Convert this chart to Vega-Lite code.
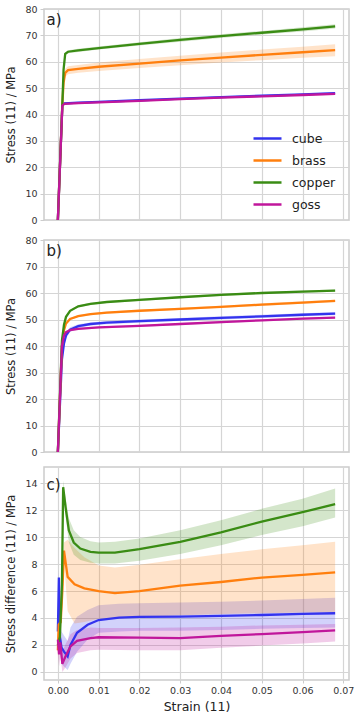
{
  "$schema": "https://vega.github.io/schema/vega-lite/v6.json",
  "background": "white",
  "padding": {"left": 5, "top": 3, "right": 5, "bottom": 1},
  "spacing": 8,
  "config": {
    "font": "DejaVu Sans",
    "view": {"stroke": "#cccccc", "strokeWidth": 1.5},
    "axis": {"gridColor": "#d5d5d5", "gridWidth": 1.2, "domain": false, "tickColor": "#cccccc", "tickSize": 4, "labelFontSize": 9.5, "labelColor": "#333333", "titleFontSize": 11.5, "titleFontWeight": "normal", "titleColor": "#222222", "labelPadding": 3, "titlePadding": 8, "labelOverlap": false},
    "axisX": {"minExtent": 0, "tickSize": 3, "labelPadding": 2, "titlePadding": 6, "titleFontSize": 12.5}
  },
  "resolve": {"scale": {"color": "independent"}},
  "datasets": {
    "A": [
      {"g": "cube", "x": 0, "y": 0, "lo": 0, "hi": 0},
      {"g": "cube", "x": 0.0011, "y": 43.5, "lo": 43.2, "hi": 43.8},
      {"g": "cube", "x": 0.0016, "y": 44.2, "lo": 43.9, "hi": 44.5},
      {"g": "cube", "x": 0.005, "y": 44.5, "lo": 44.2, "hi": 44.8},
      {"g": "cube", "x": 0.01, "y": 44.8, "lo": 44.5, "hi": 45.1},
      {"g": "cube", "x": 0.02, "y": 45.4, "lo": 45.1, "hi": 45.7},
      {"g": "cube", "x": 0.03, "y": 46.0, "lo": 45.7, "hi": 46.3},
      {"g": "cube", "x": 0.04, "y": 46.6, "lo": 46.3, "hi": 46.9},
      {"g": "cube", "x": 0.05, "y": 47.1, "lo": 46.8, "hi": 47.4},
      {"g": "cube", "x": 0.06, "y": 47.6, "lo": 47.3, "hi": 47.9},
      {"g": "cube", "x": 0.068, "y": 48.1, "lo": 47.8, "hi": 48.4},
      {"g": "brass", "x": 0, "y": 0, "lo": 0, "hi": 0},
      {"g": "brass", "x": 0.0011, "y": 44, "lo": 43.5, "hi": 44.5},
      {"g": "brass", "x": 0.0014, "y": 52, "lo": 50.5, "hi": 53.5},
      {"g": "brass", "x": 0.0018, "y": 55.8, "lo": 54.3, "hi": 57.3},
      {"g": "brass", "x": 0.0025, "y": 56.8, "lo": 55.3, "hi": 58.3},
      {"g": "brass", "x": 0.005, "y": 57.3, "lo": 55.8, "hi": 58.8},
      {"g": "brass", "x": 0.01, "y": 58.1, "lo": 56.5, "hi": 59.7},
      {"g": "brass", "x": 0.02, "y": 59.3, "lo": 57.6, "hi": 61.0},
      {"g": "brass", "x": 0.03, "y": 60.5, "lo": 58.7, "hi": 62.3},
      {"g": "brass", "x": 0.04, "y": 61.6, "lo": 59.7, "hi": 63.5},
      {"g": "brass", "x": 0.05, "y": 62.6, "lo": 60.6, "hi": 64.6},
      {"g": "brass", "x": 0.06, "y": 63.6, "lo": 61.5, "hi": 65.7},
      {"g": "brass", "x": 0.068, "y": 64.4, "lo": 62.1, "hi": 66.6},
      {"g": "copper", "x": 0, "y": 0, "lo": 0, "hi": 0},
      {"g": "copper", "x": 0.0011, "y": 44, "lo": 43.6, "hi": 44.4},
      {"g": "copper", "x": 0.0014, "y": 57, "lo": 56.4, "hi": 57.6},
      {"g": "copper", "x": 0.0018, "y": 63.0, "lo": 62.4, "hi": 63.6},
      {"g": "copper", "x": 0.0025, "y": 63.8, "lo": 63.2, "hi": 64.4},
      {"g": "copper", "x": 0.005, "y": 64.3, "lo": 63.7, "hi": 64.9},
      {"g": "copper", "x": 0.01, "y": 65.2, "lo": 64.6, "hi": 65.8},
      {"g": "copper", "x": 0.02, "y": 66.8, "lo": 66.2, "hi": 67.4},
      {"g": "copper", "x": 0.03, "y": 68.3, "lo": 67.6, "hi": 69.0},
      {"g": "copper", "x": 0.04, "y": 69.7, "lo": 69.0, "hi": 70.4},
      {"g": "copper", "x": 0.05, "y": 71.0, "lo": 70.3, "hi": 71.7},
      {"g": "copper", "x": 0.06, "y": 72.3, "lo": 71.5, "hi": 73.1},
      {"g": "copper", "x": 0.068, "y": 73.4, "lo": 72.6, "hi": 74.2},
      {"g": "goss", "x": 0, "y": 0, "lo": 0, "hi": 0},
      {"g": "goss", "x": 0.0011, "y": 43.4, "lo": 43.1, "hi": 43.7},
      {"g": "goss", "x": 0.0016, "y": 44.0, "lo": 43.7, "hi": 44.3},
      {"g": "goss", "x": 0.005, "y": 44.3, "lo": 44.0, "hi": 44.6},
      {"g": "goss", "x": 0.01, "y": 44.6, "lo": 44.3, "hi": 44.9},
      {"g": "goss", "x": 0.02, "y": 45.2, "lo": 44.9, "hi": 45.5},
      {"g": "goss", "x": 0.03, "y": 45.8, "lo": 45.5, "hi": 46.1},
      {"g": "goss", "x": 0.04, "y": 46.4, "lo": 46.1, "hi": 46.7},
      {"g": "goss", "x": 0.05, "y": 46.9, "lo": 46.6, "hi": 47.2},
      {"g": "goss", "x": 0.06, "y": 47.4, "lo": 47.1, "hi": 47.7},
      {"g": "goss", "x": 0.068, "y": 47.8, "lo": 47.5, "hi": 48.1}
    ],
    "B": [
      {"g": "cube", "x": 0, "y": 0, "lo": 0, "hi": 0},
      {"g": "cube", "x": 0.0008, "y": 28, "lo": 26, "hi": 30},
      {"g": "cube", "x": 0.001, "y": 35, "lo": 33, "hi": 37},
      {"g": "cube", "x": 0.0015, "y": 41, "lo": 39.5, "hi": 42.5},
      {"g": "cube", "x": 0.002, "y": 44, "lo": 42.8, "hi": 45.2},
      {"g": "cube", "x": 0.003, "y": 46.2, "lo": 45.3, "hi": 47.1},
      {"g": "cube", "x": 0.005, "y": 47.5, "lo": 46.8, "hi": 48.2},
      {"g": "cube", "x": 0.008, "y": 48.3, "lo": 47.7, "hi": 48.9},
      {"g": "cube", "x": 0.012, "y": 48.8, "lo": 48.2, "hi": 49.4},
      {"g": "cube", "x": 0.02, "y": 49.4, "lo": 48.8, "hi": 50.0},
      {"g": "cube", "x": 0.03, "y": 50.0, "lo": 49.4, "hi": 50.6},
      {"g": "cube", "x": 0.04, "y": 50.6, "lo": 50.0, "hi": 51.2},
      {"g": "cube", "x": 0.05, "y": 51.2, "lo": 50.6, "hi": 51.8},
      {"g": "cube", "x": 0.06, "y": 51.8, "lo": 51.2, "hi": 52.4},
      {"g": "cube", "x": 0.068, "y": 52.2, "lo": 51.6, "hi": 52.8},
      {"g": "brass", "x": 0, "y": 0, "lo": 0, "hi": 0},
      {"g": "brass", "x": 0.001, "y": 40, "lo": 39.4, "hi": 40.6},
      {"g": "brass", "x": 0.0015, "y": 46, "lo": 45.5, "hi": 46.5},
      {"g": "brass", "x": 0.002, "y": 48.5, "lo": 48.0, "hi": 49.0},
      {"g": "brass", "x": 0.003, "y": 50.2, "lo": 49.8, "hi": 50.6},
      {"g": "brass", "x": 0.005, "y": 51.3, "lo": 50.9, "hi": 51.7},
      {"g": "brass", "x": 0.008, "y": 52.0, "lo": 51.6, "hi": 52.4},
      {"g": "brass", "x": 0.012, "y": 52.6, "lo": 52.2, "hi": 53.0},
      {"g": "brass", "x": 0.02, "y": 53.3, "lo": 52.9, "hi": 53.7},
      {"g": "brass", "x": 0.03, "y": 54.0, "lo": 53.6, "hi": 54.4},
      {"g": "brass", "x": 0.04, "y": 54.8, "lo": 54.4, "hi": 55.2},
      {"g": "brass", "x": 0.05, "y": 55.6, "lo": 55.1, "hi": 56.1},
      {"g": "brass", "x": 0.06, "y": 56.4, "lo": 55.9, "hi": 56.9},
      {"g": "brass", "x": 0.068, "y": 57.0, "lo": 56.5, "hi": 57.5},
      {"g": "copper", "x": 0, "y": 0, "lo": 0, "hi": 0},
      {"g": "copper", "x": 0.001, "y": 42, "lo": 41.5, "hi": 42.5},
      {"g": "copper", "x": 0.0015, "y": 48, "lo": 47.6, "hi": 48.4},
      {"g": "copper", "x": 0.002, "y": 51, "lo": 50.6, "hi": 51.4},
      {"g": "copper", "x": 0.003, "y": 53.3, "lo": 52.9, "hi": 53.7},
      {"g": "copper", "x": 0.005, "y": 55.0, "lo": 54.6, "hi": 55.4},
      {"g": "copper", "x": 0.008, "y": 55.9, "lo": 55.5, "hi": 56.3},
      {"g": "copper", "x": 0.012, "y": 56.6, "lo": 56.2, "hi": 57.0},
      {"g": "copper", "x": 0.02, "y": 57.4, "lo": 57.0, "hi": 57.8},
      {"g": "copper", "x": 0.03, "y": 58.4, "lo": 58.0, "hi": 58.8},
      {"g": "copper", "x": 0.04, "y": 59.3, "lo": 58.9, "hi": 59.7},
      {"g": "copper", "x": 0.05, "y": 60.0, "lo": 59.6, "hi": 60.4},
      {"g": "copper", "x": 0.06, "y": 60.5, "lo": 60.1, "hi": 60.9},
      {"g": "copper", "x": 0.068, "y": 60.9, "lo": 60.5, "hi": 61.3},
      {"g": "goss", "x": 0, "y": 0, "lo": 0, "hi": 0},
      {"g": "goss", "x": 0.001, "y": 40, "lo": 39.5, "hi": 40.5},
      {"g": "goss", "x": 0.0015, "y": 44, "lo": 43.6, "hi": 44.4},
      {"g": "goss", "x": 0.002, "y": 45.2, "lo": 44.8, "hi": 45.6},
      {"g": "goss", "x": 0.003, "y": 46.0, "lo": 45.6, "hi": 46.4},
      {"g": "goss", "x": 0.005, "y": 46.5, "lo": 46.1, "hi": 46.9},
      {"g": "goss", "x": 0.01, "y": 47.0, "lo": 46.6, "hi": 47.4},
      {"g": "goss", "x": 0.02, "y": 47.6, "lo": 47.2, "hi": 48.0},
      {"g": "goss", "x": 0.03, "y": 48.3, "lo": 47.9, "hi": 48.7},
      {"g": "goss", "x": 0.04, "y": 49.0, "lo": 48.6, "hi": 49.4},
      {"g": "goss", "x": 0.05, "y": 49.7, "lo": 49.3, "hi": 50.1},
      {"g": "goss", "x": 0.06, "y": 50.3, "lo": 49.9, "hi": 50.7},
      {"g": "goss", "x": 0.068, "y": 50.7, "lo": 50.3, "hi": 51.1}
    ],
    "C": [
      {"g": "cube", "x": 0, "y": 3.0, "lo": 2.0, "hi": 4.0},
      {"g": "cube", "x": 0.00025, "y": 7.0, "lo": 6.0, "hi": 7.6},
      {"g": "cube", "x": 0.0005, "y": 2.6, "lo": 1.5, "hi": 3.6},
      {"g": "cube", "x": 0.0009, "y": 1.8, "lo": 0.6, "hi": 3.0},
      {"g": "cube", "x": 0.0015, "y": 1.5, "lo": 0.4, "hi": 2.7},
      {"g": "cube", "x": 0.0024, "y": 1.15, "lo": 0.15, "hi": 2.3},
      {"g": "cube", "x": 0.0031, "y": 2.0, "lo": 0.6, "hi": 3.3},
      {"g": "cube", "x": 0.0047, "y": 2.9, "lo": 1.5, "hi": 4.1},
      {"g": "cube", "x": 0.0073, "y": 3.5, "lo": 2.4, "hi": 4.6},
      {"g": "cube", "x": 0.01, "y": 3.85, "lo": 2.9, "hi": 4.95},
      {"g": "cube", "x": 0.015, "y": 4.02, "lo": 3.0, "hi": 5.05},
      {"g": "cube", "x": 0.02, "y": 4.08, "lo": 3.05, "hi": 5.1},
      {"g": "cube", "x": 0.03, "y": 4.1, "lo": 3.05, "hi": 5.15},
      {"g": "cube", "x": 0.04, "y": 4.15, "lo": 3.1, "hi": 5.2},
      {"g": "cube", "x": 0.05, "y": 4.22, "lo": 3.2, "hi": 5.3},
      {"g": "cube", "x": 0.06, "y": 4.3, "lo": 3.25, "hi": 5.4},
      {"g": "cube", "x": 0.068, "y": 4.35, "lo": 3.3, "hi": 5.5},
      {"g": "brass", "x": 0, "y": 1.6, "lo": 1.0, "hi": 2.2},
      {"g": "brass", "x": 0.0002, "y": 3.5, "lo": 2.8, "hi": 4.2},
      {"g": "brass", "x": 0.0007, "y": 3.7, "lo": 2.8, "hi": 4.6},
      {"g": "brass", "x": 0.0011, "y": 6.0, "lo": 5.0, "hi": 7.0},
      {"g": "brass", "x": 0.0015, "y": 9.0, "lo": 8.4, "hi": 9.6},
      {"g": "brass", "x": 0.0024, "y": 7.05, "lo": 4.5, "hi": 9.8},
      {"g": "brass", "x": 0.0041, "y": 6.5, "lo": 3.6, "hi": 9.2},
      {"g": "brass", "x": 0.0065, "y": 6.2, "lo": 3.7, "hi": 8.5},
      {"g": "brass", "x": 0.01, "y": 6.0, "lo": 3.95, "hi": 7.9},
      {"g": "brass", "x": 0.014, "y": 5.85, "lo": 3.95, "hi": 7.75},
      {"g": "brass", "x": 0.02, "y": 6.0, "lo": 4.05, "hi": 7.95},
      {"g": "brass", "x": 0.03, "y": 6.4, "lo": 4.2, "hi": 8.35},
      {"g": "brass", "x": 0.04, "y": 6.67, "lo": 4.3, "hi": 8.75},
      {"g": "brass", "x": 0.05, "y": 7.0, "lo": 4.35, "hi": 9.1},
      {"g": "brass", "x": 0.06, "y": 7.2, "lo": 4.4, "hi": 9.4},
      {"g": "brass", "x": 0.068, "y": 7.38, "lo": 4.4, "hi": 9.65},
      {"g": "copper", "x": 0, "y": 2.0, "lo": 1.6, "hi": 2.4},
      {"g": "copper", "x": 0.0005, "y": 2.6, "lo": 2.1, "hi": 3.1},
      {"g": "copper", "x": 0.001, "y": 6.5, "lo": 5.9, "hi": 7.1},
      {"g": "copper", "x": 0.0013, "y": 13.7, "lo": 13.2, "hi": 14.2},
      {"g": "copper", "x": 0.0019, "y": 12.2, "lo": 11.5, "hi": 12.9},
      {"g": "copper", "x": 0.0027, "y": 10.5, "lo": 9.6, "hi": 11.4},
      {"g": "copper", "x": 0.0039, "y": 9.6, "lo": 8.7, "hi": 10.5},
      {"g": "copper", "x": 0.0055, "y": 9.15, "lo": 8.3, "hi": 10.0},
      {"g": "copper", "x": 0.008, "y": 8.9, "lo": 8.1, "hi": 9.7},
      {"g": "copper", "x": 0.01, "y": 8.85, "lo": 8.05, "hi": 9.6},
      {"g": "copper", "x": 0.014, "y": 8.85, "lo": 8.05, "hi": 9.65},
      {"g": "copper", "x": 0.02, "y": 9.1, "lo": 8.25, "hi": 9.9},
      {"g": "copper", "x": 0.03, "y": 9.65, "lo": 8.75, "hi": 10.5},
      {"g": "copper", "x": 0.04, "y": 10.35, "lo": 9.4, "hi": 11.25},
      {"g": "copper", "x": 0.05, "y": 11.15, "lo": 10.15, "hi": 12.1},
      {"g": "copper", "x": 0.06, "y": 11.85, "lo": 10.8, "hi": 12.85},
      {"g": "copper", "x": 0.068, "y": 12.44, "lo": 11.45, "hi": 13.6},
      {"g": "goss", "x": 0, "y": 2.4, "lo": 1.4, "hi": 3.4},
      {"g": "goss", "x": 0.0003, "y": 1.3, "lo": 0.4, "hi": 2.2},
      {"g": "goss", "x": 0.0006, "y": 2.2, "lo": 1.2, "hi": 3.2},
      {"g": "goss", "x": 0.0011, "y": 0.6, "lo": 0.0, "hi": 1.5},
      {"g": "goss", "x": 0.0018, "y": 1.1, "lo": 0.3, "hi": 2.0},
      {"g": "goss", "x": 0.0031, "y": 1.9, "lo": 1.0, "hi": 2.8},
      {"g": "goss", "x": 0.0047, "y": 2.3, "lo": 1.4, "hi": 3.1},
      {"g": "goss", "x": 0.008, "y": 2.5, "lo": 1.6, "hi": 3.3},
      {"g": "goss", "x": 0.01, "y": 2.57, "lo": 1.65, "hi": 3.25},
      {"g": "goss", "x": 0.02, "y": 2.54, "lo": 1.6, "hi": 3.25},
      {"g": "goss", "x": 0.03, "y": 2.5, "lo": 1.6, "hi": 3.3},
      {"g": "goss", "x": 0.04, "y": 2.67, "lo": 1.8, "hi": 3.35},
      {"g": "goss", "x": 0.05, "y": 2.81, "lo": 1.95, "hi": 3.45},
      {"g": "goss", "x": 0.06, "y": 2.95, "lo": 2.1, "hi": 3.5},
      {"g": "goss", "x": 0.068, "y": 3.08, "lo": 2.25, "hi": 3.55}
    ]
  },
  "vconcat": [
    {
      "width": 305, "height": 211,
      "data": {"name": "A"},
      "layer": [
        {
          "mark": {"type": "area", "opacity": 0.22},
          "encoding": {
            "x": {"field": "x", "type": "quantitative", "scale": {"domain": [-0.0034, 0.0714], "nice": false, "zero": false}, "axis": {"values": [0, 0.01, 0.02, 0.03, 0.04, 0.05, 0.06, 0.07], "labels": false, "ticks": false, "title": null}},
            "y": {"field": "lo", "type": "quantitative", "stack": null, "scale": {"domain": [0, 80], "nice": false}, "axis": {"values": [0, 10, 20, 30, 40, 50, 60, 70, 80], "title": "Stress (11) / MPa"}},
            "y2": {"field": "hi"},
            "color": {"field": "g", "type": "nominal", "scale": {"domain": ["cube", "brass", "copper", "goss"], "range": ["#3333ee", "#ff7f0e", "#3a8c14", "#c0169b"]},
              "legend": {"orient": "none", "legendX": 208, "legendY": 114, "title": null, "symbolType": "stroke", "symbolSize": 784, "symbolStrokeWidth": 2.5, "symbolOpacity": 1, "labelFontSize": 12.5, "labelColor": "#222222", "rowPadding": 0, "labelOffset": 9, "padding": 0}}
          }
        },
        {
          "mark": {"type": "line", "strokeWidth": 2.3},
          "encoding": {
            "x": {"field": "x", "type": "quantitative", "axis": {"values": [0, 0.01, 0.02, 0.03, 0.04, 0.05, 0.06, 0.07], "labels": false, "ticks": false, "title": null}},
            "y": {"field": "y", "type": "quantitative", "axis": {"values": [0, 10, 20, 30, 40, 50, 60, 70, 80], "title": "Stress (11) / MPa"}},
            "color": {"field": "g", "type": "nominal", "scale": {"domain": ["cube", "brass", "copper", "goss"], "range": ["#3333ee", "#ff7f0e", "#3a8c14", "#c0169b"]},
              "legend": {"orient": "none", "legendX": 208, "legendY": 114, "title": null, "symbolType": "stroke", "symbolSize": 784, "symbolStrokeWidth": 2.5, "symbolOpacity": 1, "labelFontSize": 12.5, "labelColor": "#222222", "rowPadding": 0, "labelOffset": 9, "padding": 0}}
          }
        },
        {
          "data": {"values": [{"t": "a)"}]},
          "mark": {"type": "text", "align": "left", "baseline": "middle", "fontSize": 15, "color": "#222222"},
          "encoding": {
            "x": {"datum": -0.0028, "type": "quantitative", "axis": {"values": [0, 0.01, 0.02, 0.03, 0.04, 0.05, 0.06, 0.07], "labels": false, "ticks": false, "title": null}},
            "y": {"datum": 76, "type": "quantitative", "axis": {"values": [0, 10, 20, 30, 40, 50, 60, 70, 80], "title": "Stress (11) / MPa"}},
            "text": {"field": "t"}}
        }
      ]
    },
    {
      "width": 305, "height": 212,
      "data": {"name": "B"},
      "layer": [
        {
          "mark": {"type": "area", "opacity": 0.22},
          "encoding": {
            "x": {"field": "x", "type": "quantitative", "scale": {"domain": [-0.0034, 0.0714], "nice": false, "zero": false}, "axis": {"values": [0, 0.01, 0.02, 0.03, 0.04, 0.05, 0.06, 0.07], "labels": false, "ticks": false, "title": null}},
            "y": {"field": "lo", "type": "quantitative", "stack": null, "scale": {"domain": [0, 80], "nice": false}, "axis": {"values": [0, 10, 20, 30, 40, 50, 60, 70, 80], "title": "Stress (11) / MPa"}},
            "y2": {"field": "hi"},
            "color": {"field": "g", "type": "nominal", "scale": {"domain": ["cube", "brass", "copper", "goss"], "range": ["#3333ee", "#ff7f0e", "#3a8c14", "#c0169b"]}, "legend": null}
          }
        },
        {
          "mark": {"type": "line", "strokeWidth": 2.3},
          "encoding": {
            "x": {"field": "x", "type": "quantitative", "axis": {"values": [0, 0.01, 0.02, 0.03, 0.04, 0.05, 0.06, 0.07], "labels": false, "ticks": false, "title": null}},
            "y": {"field": "y", "type": "quantitative", "axis": {"values": [0, 10, 20, 30, 40, 50, 60, 70, 80], "title": "Stress (11) / MPa"}},
            "color": {"field": "g", "type": "nominal", "scale": {"domain": ["cube", "brass", "copper", "goss"], "range": ["#3333ee", "#ff7f0e", "#3a8c14", "#c0169b"]}, "legend": null}
          }
        },
        {
          "data": {"values": [{"t": "b)"}]},
          "mark": {"type": "text", "align": "left", "baseline": "middle", "fontSize": 15, "color": "#222222"},
          "encoding": {
            "x": {"datum": -0.0028, "type": "quantitative", "axis": {"values": [0, 0.01, 0.02, 0.03, 0.04, 0.05, 0.06, 0.07], "labels": false, "ticks": false, "title": null}},
            "y": {"datum": 76, "type": "quantitative", "axis": {"values": [0, 10, 20, 30, 40, 50, 60, 70, 80], "title": "Stress (11) / MPa"}},
            "text": {"field": "t"}}
        }
      ]
    },
    {
      "width": 305, "height": 213,
      "data": {"name": "C"},
      "layer": [
        {
          "mark": {"type": "area", "opacity": 0.22},
          "encoding": {
            "x": {"field": "x", "type": "quantitative", "scale": {"domain": [-0.0034, 0.0714], "nice": false, "zero": false}, "axis": {"values": [0, 0.01, 0.02, 0.03, 0.04, 0.05, 0.06, 0.07], "format": ".2f", "title": "Strain (11)"}},
            "y": {"field": "lo", "type": "quantitative", "stack": null, "scale": {"domain": [-0.6, 15.2], "nice": false, "zero": false}, "axis": {"values": [0, 2, 4, 6, 8, 10, 12, 14], "title": "Stress difference (11) / MPa"}},
            "y2": {"field": "hi"},
            "color": {"field": "g", "type": "nominal", "scale": {"domain": ["cube", "brass", "copper", "goss"], "range": ["#3333ee", "#ff7f0e", "#3a8c14", "#c0169b"]}, "legend": null}
          }
        },
        {
          "mark": {"type": "line", "strokeWidth": 2.3},
          "encoding": {
            "x": {"field": "x", "type": "quantitative", "axis": {"values": [0, 0.01, 0.02, 0.03, 0.04, 0.05, 0.06, 0.07], "format": ".2f", "title": "Strain (11)"}},
            "y": {"field": "y", "type": "quantitative", "axis": {"values": [0, 2, 4, 6, 8, 10, 12, 14], "title": "Stress difference (11) / MPa"}},
            "color": {"field": "g", "type": "nominal", "scale": {"domain": ["cube", "brass", "copper", "goss"], "range": ["#3333ee", "#ff7f0e", "#3a8c14", "#c0169b"]}, "legend": null}
          }
        },
        {
          "data": {"values": [{"t": "c)"}]},
          "mark": {"type": "text", "align": "left", "baseline": "middle", "fontSize": 15, "color": "#222222"},
          "encoding": {
            "x": {"datum": -0.0028, "type": "quantitative", "axis": {"values": [0, 0.01, 0.02, 0.03, 0.04, 0.05, 0.06, 0.07], "format": ".2f", "title": "Strain (11)"}},
            "y": {"datum": 13.9, "type": "quantitative", "axis": {"values": [0, 2, 4, 6, 8, 10, 12, 14], "title": "Stress difference (11) / MPa"}},
            "text": {"field": "t"}}
        }
      ]
    }
  ]
}
